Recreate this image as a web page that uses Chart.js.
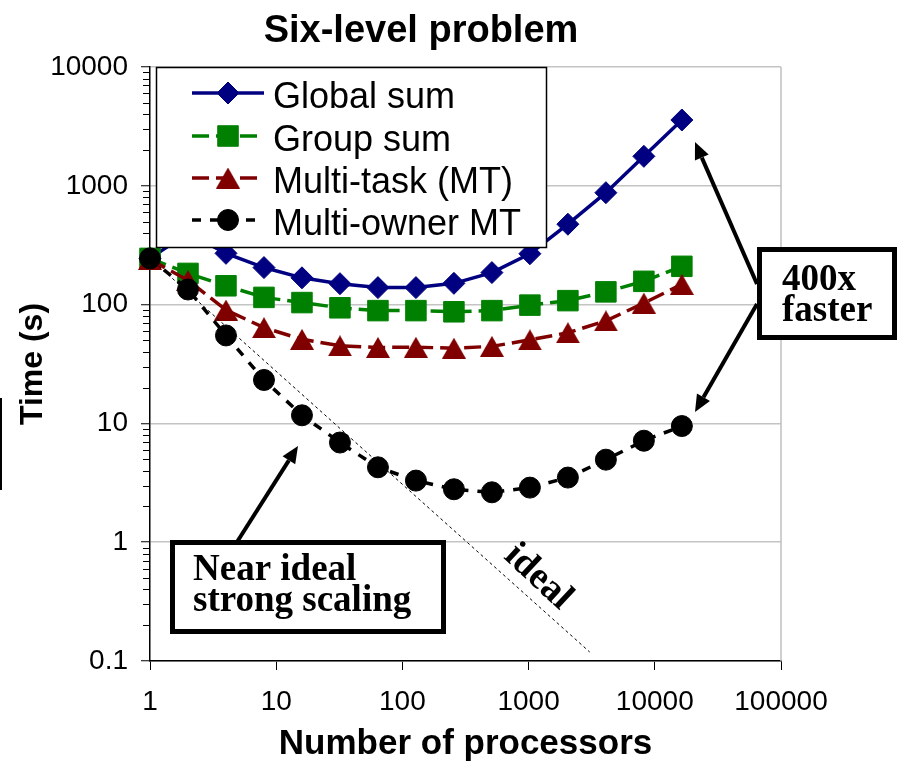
<!DOCTYPE html>
<html>
<head>
<meta charset="utf-8">
<script src="https://cdn.jsdelivr.net/npm/chart.js@4.4.1/dist/chart.umd.min.js"></script>
<style>
  html, body { margin: 0; padding: 0; background: #ffffff; }
  #wrap { width: 899px; height: 765px; position: relative; }
  canvas { display: block; }
</style>
</head>
<body>
<div id="wrap"><canvas id="chart" width="899" height="765"></canvas></div>
<script>
// Processor counts (powers of two) and measured run times in seconds
const processors = [1, 2, 4, 8, 16, 32, 64, 128, 256, 512, 1024, 2048, 4096, 8192, 16384];
const globalSumTime = [245, 400, 270, 205, 168, 150, 139, 139, 151, 186, 268, 475, 875, 1770, 3580];
const groupSumTime = [245, 183, 144, 115, 104, 94, 89, 89, 87, 89, 99, 108, 128, 157, 210];
const multiTaskTime = [240, 160, 90, 64, 51, 45, 43.6, 43.8, 43, 44.5, 50.5, 58, 73, 103, 148];
const multiOwnerTime = [245, 134, 55, 23.2, 11.7, 6.9, 4.27, 3.3, 2.79, 2.63, 2.88, 3.5, 4.95, 7.15, 9.5];

// Reference line for perfect strong scaling
const idealProcessors = [1, 3050];
const idealTime = [245, 0.119];

// Axis tick labels
const xTickValues = [1, 10, 100, 1000, 10000, 100000];
const yTickValues = [0.1, 1, 10, 100, 1000, 10000];

const seriesNames = ['Global sum', 'Group sum', 'Multi-task (MT)', 'Multi-owner MT'];

const SANS = '"Liberation Sans", Arial, sans-serif';
const SERIF = '"Liberation Serif", "Times New Roman", serif';

function toPoints(xs, ys) {
  return xs.map((x, i) => ({ x: x, y: ys[i] }));
}

// Triangle marker centred on its bounding box
function makeTriangle(color) {
  const c = document.createElement('canvas');
  c.width = 24; c.height = 21;
  const g = c.getContext('2d');
  g.fillStyle = color;
  g.beginPath();
  g.moveTo(12, 0);
  g.lineTo(24, 21);
  g.lineTo(0, 21);
  g.closePath();
  g.fill();
  return c;
}
const triangleMark = makeTriangle('#800000');

const styles = [
  { color: '#000080', pointStyle: 'rectRot', radius: 11, dash: [] },
  { color: '#008000', pointStyle: 'rect', radius: 14.5, dash: [17, 7] },
  { color: '#800000', pointStyle: triangleMark, radius: 12, dash: [17, 7] },
  { color: '#000000', pointStyle: 'circle', radius: 10.5, dash: [9, 9] }
];
const seriesValues = [globalSumTime, groupSumTime, multiTaskTime, multiOwnerTime];

const datasets = seriesValues.map((vals, i) => ({
  label: seriesNames[i],
  data: toPoints(processors, vals),
  borderColor: styles[i].color,
  backgroundColor: styles[i].color,
  borderWidth: 3.5,
  borderDash: styles[i].dash,
  pointStyle: styles[i].pointStyle,
  pointRadius: styles[i].radius,
  pointHoverRadius: styles[i].radius,
  pointBorderWidth: 1,
  pointBorderColor: styles[i].color,
  pointBackgroundColor: styles[i].color,
  tension: 0,
  clip: false,
  order: 5 - i
}));

datasets.push({
  label: 'ideal',
  data: toPoints(idealProcessors, idealTime),
  borderColor: '#000000',
  borderWidth: 1,
  borderDash: [3, 3],
  pointRadius: 0,
  tension: 0,
  order: 0
});

function arrow(ctx, x1, y1, x2, y2) {
  const ang = Math.atan2(y2 - y1, x2 - x1);
  const len = 17, half = 7.5;
  const bx = x2 - Math.cos(ang) * len, by = y2 - Math.sin(ang) * len;
  ctx.beginPath();
  ctx.moveTo(x1, y1);
  ctx.lineTo(bx, by);
  ctx.lineWidth = 4;
  ctx.strokeStyle = '#000';
  ctx.setLineDash([]);
  ctx.stroke();
  ctx.beginPath();
  ctx.moveTo(x2, y2);
  ctx.lineTo(bx + Math.sin(ang) * half, by - Math.cos(ang) * half);
  ctx.lineTo(bx - Math.sin(ang) * half, by + Math.cos(ang) * half);
  ctx.closePath();
  ctx.fillStyle = '#000';
  ctx.fill();
}

function noteBox(ctx, x, y, w, h, lines, tx, baselines) {
  ctx.save();
  ctx.fillStyle = '#fff';
  ctx.fillRect(x, y, w, h);
  ctx.lineWidth = 5;
  ctx.strokeStyle = '#000';
  ctx.setLineDash([]);
  ctx.strokeRect(x + 2.5, y + 2.5, w - 5, h - 5);
  ctx.fillStyle = '#000';
  ctx.font = 'bold 37px ' + SERIF;
  ctx.textAlign = 'left';
  ctx.textBaseline = 'alphabetic';
  lines.forEach((t, i) => ctx.fillText(t, tx, baselines[i]));
  ctx.restore();
}

const decor = {
  id: 'decor',
  beforeDatasetsDraw(chart) {
    const { ctx, chartArea } = chart;
    const ys = chart.scales.y;
    ctx.save();
    // right edge of the plot frame
    ctx.strokeStyle = '#bfbfbf';
    ctx.lineWidth = 1.5;
    ctx.beginPath();
    ctx.moveTo(chartArea.right, chartArea.top);
    ctx.lineTo(chartArea.right, chartArea.bottom);
    ctx.stroke();
    // minor ticks on the time axis
    ctx.strokeStyle = '#000';
    ctx.lineWidth = 1;
    for (let d = -1; d < 4; d++) {
      for (let m = 2; m <= 9; m++) {
        const py = Math.round(ys.getPixelForValue(m * Math.pow(10, d))) + 0.5;
        ctx.beginPath();
        ctx.moveTo(chartArea.left - 7, py);
        ctx.lineTo(chartArea.left, py);
        ctx.stroke();
      }
    }
    ctx.restore();
  },
  afterDatasetsDraw(chart) {
    const { ctx } = chart;
    ctx.save();

    // legend
    ctx.fillStyle = '#fff';
    ctx.fillRect(156, 67, 391, 181);
    ctx.strokeStyle = '#000';
    ctx.lineWidth = 1.5;
    ctx.setLineDash([]);
    ctx.strokeRect(156.5, 67.5, 390, 180);
    const baselines = [108, 151, 193, 235];
    seriesNames.forEach((name, i) => {
      const ly = baselines[i] - 15;
      const st = styles[i];
      ctx.beginPath();
      ctx.setLineDash(st.dash);
      ctx.moveTo(192, ly);
      ctx.lineTo(264, ly);
      ctx.strokeStyle = st.color;
      ctx.lineWidth = 3.5;
      ctx.stroke();
      ctx.setLineDash([]);
      ctx.fillStyle = st.color;
      ctx.strokeStyle = st.color;
      ctx.lineWidth = 1;
      Chart.helpers.drawPoint(ctx, {
        pointStyle: st.pointStyle, radius: st.radius, rotation: 0, borderWidth: 1
      }, 228, ly);
      ctx.fillStyle = '#000';
      ctx.font = '36px ' + SANS;
      ctx.textAlign = 'left';
      ctx.textBaseline = 'alphabetic';
      ctx.fillText(name, 273, baselines[i]);
    });

    // slope label on the reference line
    ctx.save();
    ctx.translate(538, 577);
    ctx.rotate(43 * Math.PI / 180);
    ctx.fillStyle = '#000';
    ctx.font = 'bold 38px ' + SERIF;
    ctx.textAlign = 'center';
    ctx.textBaseline = 'middle';
    ctx.fillText('ideal', 0, 0);
    ctx.restore();

    // call-out boxes and arrows
    arrow(ctx, 757, 284, 695, 142);
    arrow(ctx, 757, 304, 695, 412);
    noteBox(ctx, 757, 247, 140, 93, ['400x', 'faster'], 782, [290, 321]);
    arrow(ctx, 237, 542, 298, 446);
    noteBox(ctx, 170, 540, 276, 94, ['Near ideal', 'strong scaling'], 193, [580, 611]);

    // chart title
    ctx.fillStyle = '#000';
    ctx.font = 'bold 38px ' + SANS;
    ctx.textAlign = 'center';
    ctx.textBaseline = 'alphabetic';
    ctx.fillText('Six-level problem', 421, 42);

    // thin rule at the left edge
    ctx.fillRect(0, 398, 2, 92);
    ctx.restore();
  }
};

Chart.defaults.font.family = SANS;
Chart.defaults.color = '#000';

new Chart(document.getElementById('chart').getContext('2d'), {
  type: 'line',
  data: { datasets: datasets },
  options: {
    responsive: false,
    animation: false,
    devicePixelRatio: 1,
    layout: { padding: { left: 0, top: 67, right: 118, bottom: 0 } },
    plugins: {
      legend: { display: false },
      tooltip: { enabled: false },
      title: { display: false }
    },
    scales: {
      x: {
        type: 'logarithmic',
        position: 'bottom',
        min: 1,
        max: 100000,
        afterBuildTicks: (s) => { s.ticks = xTickValues.map(v => ({ value: v, major: true })); },
        afterFit: (s) => { s.height = 104; },
        ticks: {
          autoSkip: false,
          maxRotation: 0,
          padding: 15,
          font: { size: 28 },
          color: '#000',
          callback: (v) => String(v)
        },
        grid: {
          drawOnChartArea: false,
          drawTicks: true,
          tickLength: 9,
          tickColor: '#000',
          tickWidth: 1
        },
        border: { color: '#000', width: 1.5 },
        title: {
          display: true,
          text: 'Number of processors',
          font: { size: 35, weight: 'bold' },
          color: '#000',
          padding: { top: 0, bottom: 0 }
        }
      },
      y: {
        type: 'logarithmic',
        min: 0.1,
        max: 10000,
        afterBuildTicks: (s) => { s.ticks = yTickValues.map(v => ({ value: v, major: true })); },
        afterFit: (s) => { s.width = 150; },
        ticks: {
          padding: 13,
          font: { size: 28 },
          color: '#000',
          callback: (v) => String(v)
        },
        grid: {
          drawOnChartArea: true,
          color: '#c4c4c4',
          lineWidth: 1.5,
          drawTicks: true,
          tickLength: 9,
          tickColor: '#000',
          tickWidth: 1
        },
        border: { color: '#000', width: 1.5 },
        title: {
          display: true,
          text: 'Time (s)',
          font: { size: 32, weight: 'bold' },
          color: '#000',
          padding: { top: 14, bottom: 0 }
        }
      }
    }
  },
  plugins: [decor]
});
</script>
</body>
</html>
